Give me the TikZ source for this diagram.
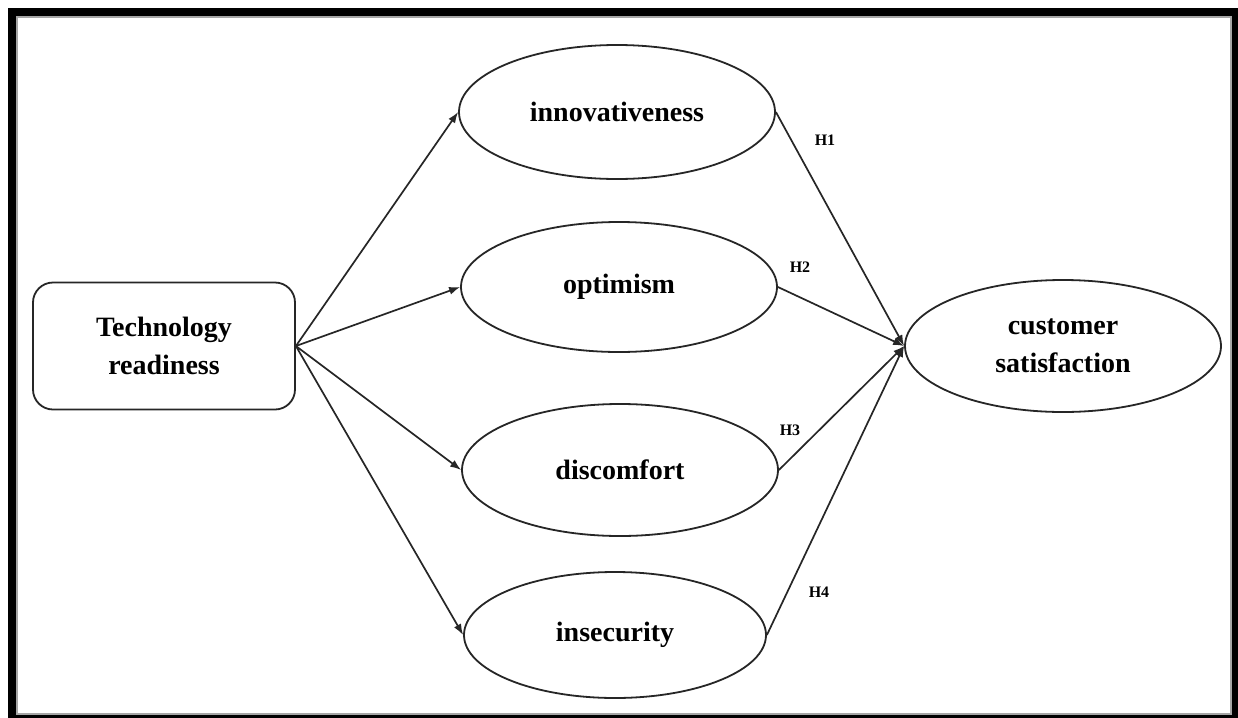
\documentclass[tikz,border=0pt]{standalone}
\usepackage{fontspec}
\setmainfont{Liberation Serif}
\usetikzlibrary{shapes.geometric,arrows.meta}

\begin{document}
\begin{tikzpicture}[x=0.5pt,y=-0.5pt,
		oval/.style={draw=black!85,line width=0.9pt,ellipse,inner sep=0pt,
			minimum width=158pt,minimum height=67pt,align=center,
			font=\fontsize{14}{19}\selectfont\bfseries},
		rbox/.style={draw=black!85,line width=0.9pt,rounded corners=10pt,inner sep=0pt,
			minimum width=131pt,minimum height=63.5pt,align=center,
			font=\fontsize{14}{19}\selectfont\bfseries},
		link/.style={draw=black!85,line width=0.85pt,-{Latex[length=5.5pt,width=4pt]}},
		hyp/.style={font=\fontsize{8}{9}\selectfont\bfseries}]
		\useasboundingbox (0,0) rectangle (1238,718);
		\fill[black] (8,8) rectangle (1238,718);
		\fill[white] (16,16) rectangle (1232,715);
		\draw[black!35,line width=1pt] (17,17) rectangle (1231,714);

		\node[rbox] (tr) at (164,346) {Technology\\readiness};
		\node[oval] (inno) at (617,112) {innovativeness};
		\node[oval,minimum height=65pt] (opti) at (619,287) {optimism};
		\node[oval,minimum height=66pt] (disc) at (620,470) {discomfort};
		\node[oval,minimum width=151pt,minimum height=63pt] (inse) at (615,635) {insecurity};
		\node[oval,minimum height=66pt] (cs) at (1063,346) {customer\\satisfaction};

		\draw[link] (tr.east) -- (inno.west);
		\draw[link] (tr.east) -- (opti.west);
		\draw[link] (tr.east) -- (disc.west);
		\draw[link] (tr.east) -- (inse.west);

		\draw[link] (inno.east) -- (cs.west);
		\draw[link] (opti.east) -- (cs.west);
		\draw[link] (disc.east) -- (cs.west);
		\draw[link] (inse.east) -- (cs.west);

		\node[hyp] (h1) at (825,140) {H1};
		\node[hyp] (h2) at (800,267) {H2};
		\node[hyp] (h3) at (790,430) {H3};
		\node[hyp] (h4) at (819,592) {H4};
	\end{tikzpicture}
\end{document}
